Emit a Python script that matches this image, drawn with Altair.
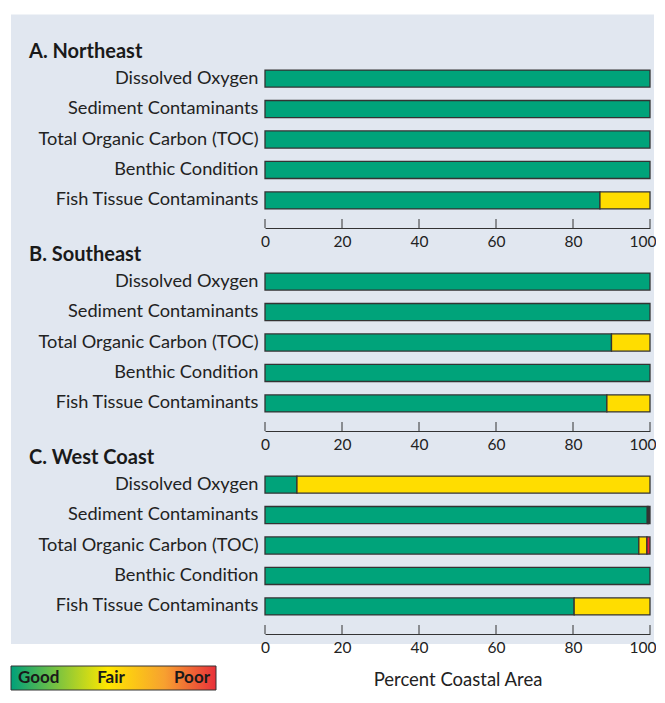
import altair as alt
import pandas as pd

FONT = "Lato"

regions = ["A. Northeast", "B. Southeast", "C. West Coast"]
indicators = [
    "Dissolved Oxygen",
    "Sediment Contaminants",
    "Total Organic Carbon (TOC)",
    "Benthic Condition",
    "Fish Tissue Contaminants",
]
categories = ["Good", "Fair", "Poor", "No data"]
colors = ["#00A37A", "#FFDD00", "#E8203A", "#3A3A3A"]

good = {
    "A. Northeast": [100, 100, 100, 100, 87.0],
    "B. Southeast": [100, 100, 90.0, 100, 88.8],
    "C. West Coast": [8.3, 99.3, 97.1, 100, 80.3],
}
fair = {
    "A. Northeast": [0, 0, 0, 0, 13.0],
    "B. Southeast": [0, 0, 10.0, 0, 11.2],
    "C. West Coast": [91.7, 0.3, 2.1, 0, 19.7],
}
poor = {
    "A. Northeast": [0, 0, 0, 0, 0],
    "B. Southeast": [0, 0, 0, 0, 0],
    "C. West Coast": [0, 0, 0.8, 0, 0],
}
nodata = {
    "A. Northeast": [0, 0, 0, 0, 0],
    "B. Southeast": [0, 0, 0, 0, 0],
    "C. West Coast": [0, 0.4, 0, 0, 0],
}
ticks = [0, 20, 40, 60, 80, 100]
legend_labels = ["Good", "Fair", "Poor"]

W, H, GAP = 385, 177, 26
BG = "#E1E7F0"
INK = "#222222"


def section(i, region):
    rows = []
    for j, ind in enumerate(indicators):
        for k, (cat, vals) in enumerate(zip(categories, [good, fair, poor, nodata])):
            v = vals[region][j]
            if v > 0:
                rows.append(dict(indicator=ind, category=cat, value=v, order=k))
    df = pd.DataFrame(rows)
    last = i == len(regions) - 1
    bg_top = -36.5 if i == 0 else 0
    bg_bottom = H + 10 if last else H + GAP

    bg = alt.Chart(pd.DataFrame({"a": [0]})).mark_rect(color=BG).encode(
        x=alt.value(-254), x2=alt.value(W + 4),
        y=alt.value(bg_top), y2=alt.value(bg_bottom),
    )
    title = alt.Chart(pd.DataFrame({"t": [region]})).mark_text(
        align="left", baseline="middle", fontWeight="bold", fontSize=20,
        font=FONT, color="#1a1a1a",
    ).encode(x=alt.value(-236), y=alt.value(1), text="t:N")

    axis_kw = dict(values=ticks, tickSize=0, labelFlush=False, domainColor="#333333",
                   domainWidth=1, labelPadding=6, labelFontSize=15.5, labelFont=FONT,
                   labelColor=INK, grid=False, zindex=2,
                   labelAlign=alt.expr("datum.value === 100 ? 'right' : 'center'"),
                   labelOffset=alt.expr("datum.value === 100 ? 6 : 0"))
    if last:
        axis_kw.update(title="Percent Coastal Area", titleFont=FONT, titleFontSize=18.5,
                       titleFontWeight="normal", titleColor=INK, titlePadding=15)
    else:
        axis_kw.update(title=None)

    bars = alt.Chart(df).mark_bar(stroke="#333333", strokeWidth=1.3).encode(
        x=alt.X("value:Q", stack="zero",
                scale=alt.Scale(domain=[0, 100], nice=False),
                axis=alt.Axis(**axis_kw)),
        y=alt.Y("indicator:N", sort=indicators,
                scale=alt.Scale(paddingInner=0.44, paddingOuter=0.625),
                axis=alt.Axis(title=None, ticks=False, domain=False, labelPadding=7,
                              labelLimit=400, labelFontSize=18.2, labelFont=FONT,
                              labelColor=INK, zindex=2)),
        color=alt.Color("category:N", scale=alt.Scale(domain=categories, range=colors),
                        legend=None),
        order=alt.Order("order:Q"),
    )
    tick = alt.Chart(pd.DataFrame({"tick": ticks})).mark_rule(
        color="#333333", strokeWidth=1).encode(
        x=alt.X("tick:Q"), y=alt.value(H - 9), y2=alt.value(H))

    layers = [bg, bars, tick, title]
    if last:
        grad = {
            "gradient": "linear", "x1": 0, "y1": 0, "x2": 1, "y2": 0,
            "stops": [
                {"offset": 0.0, "color": "#00A07A"},
                {"offset": 0.47, "color": "#FFE800"},
                {"offset": 0.75, "color": "#F7A030"},
                {"offset": 1.0, "color": "#E8303A"},
            ],
        }
        lg = alt.Chart(pd.DataFrame({"a": [0]})).mark_rect(
            fill=grad, stroke="#333333", strokeWidth=1).encode(
            x=alt.value(-254), x2=alt.value(-49),
            y=alt.value(H + 32), y2=alt.value(H + 56))
        layers.append(lg)
        for lab, xpos, al in zip(legend_labels, [-247, -154, -55], ["left", "center", "right"]):
            layers.append(
                alt.Chart(pd.DataFrame({"t": [lab]})).mark_text(
                    align=al, baseline="middle", fontWeight="bold", fontSize=17,
                    font=FONT, color="#1a1a1a").encode(
                    x=alt.value(xpos), y=alt.value(H + 44), text="t:N"))
    return alt.layer(*layers).properties(width=W, height=H)


chart = alt.vconcat(*[section(i, r) for i, r in enumerate(regions)],
                    spacing=GAP, bounds="flush").properties(
    padding={"left": 2, "top": 6, "right": 0, "bottom": 0},
    background="white",
).configure_view(strokeWidth=0)

chart.save("out.html", embed_options={"renderer": "svg", "actions": False})
